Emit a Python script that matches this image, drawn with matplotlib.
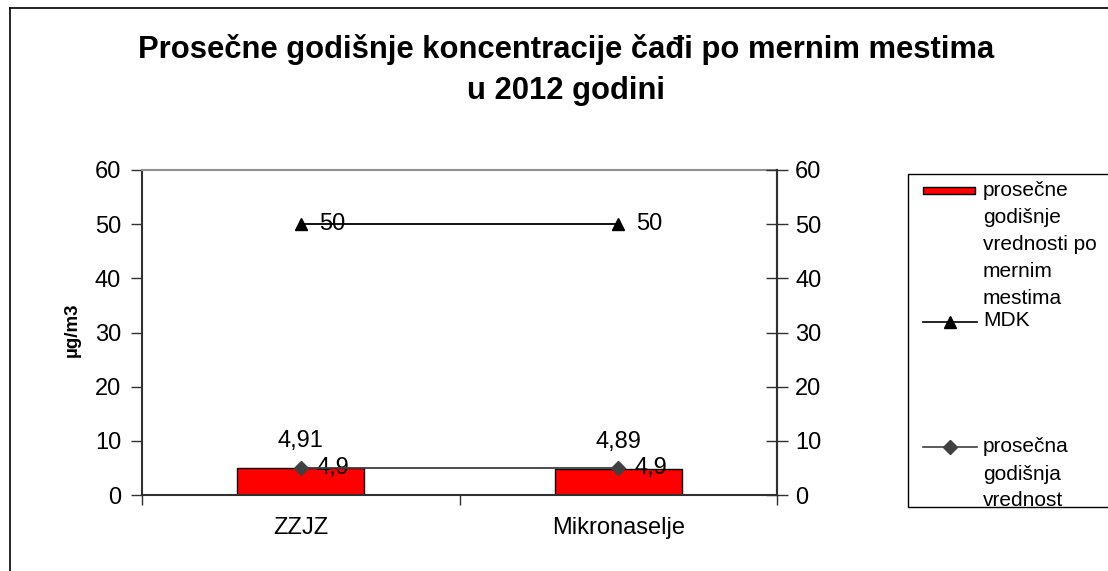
import matplotlib
matplotlib.use("Agg")
import matplotlib.pyplot as plt
from matplotlib.lines import Line2D
from matplotlib.patches import Rectangle

plt.rcParams['font.family'] = ['Liberation Sans', 'DejaVu Sans']

categories = ["ZZJZ", "Mikronaselje"]
bar_values = [4.91, 4.89]
mdk_values = [50, 50]
avg_values = [4.9, 4.9]
bar_labels = ["4,91", "4,89"]
mdk_labels = ["50", "50"]
avg_labels = ["4,9", "4,9"]
yticks = [0, 10, 20, 30, 40, 50, 60]

title_lines = ["Prosečne godišnje koncentracije čađi po mernim mestima", "u 2012 godini"]
ylabel = "µg/m3"
leg_bar = ["prosečne", "godišnje", "vrednosti po", "mernim", "mestima"]
leg_mdk = ["MDK"]
leg_avg = ["prosečna", "godišnja", "vrednost"]

W, H = 1108, 571
fig = plt.figure(figsize=(W / 100, H / 100), dpi=100)

def fx(px):
    return px / W

def fy(py):
    return 1 - py / H

ax = fig.add_axes([fx(142), fy(495), fx(777) - fx(142), fy(170) - fy(495)])
x = list(range(len(categories)))

ax.bar(x, bar_values, width=0.4, color="#FF0000", edgecolor="black", linewidth=1.0, zorder=2)
ax.plot(x, mdk_values, color="black", linewidth=1.3, marker="^", markersize=9, zorder=3)
ax.plot(x, avg_values, color="#404040", linewidth=1.3, marker="D", markersize=7, zorder=4)

fs = 17
for xi, v, lab in zip(x, bar_values, bar_labels):
    ax.annotate(lab, (xi, v), xytext=(0, 27), textcoords="offset pixels",
                ha="center", va="center", fontsize=fs)
for xi, v, lab in zip(x, avg_values, avg_labels):
    ax.annotate(lab, (xi, v), xytext=(16, 0), textcoords="offset pixels",
                ha="left", va="center", fontsize=fs)
for xi, v, lab in zip(x, mdk_values, mdk_labels):
    ax.annotate(lab, (xi, v), xytext=(18, 0), textcoords="offset pixels",
                ha="left", va="center", fontsize=fs)

ax.set_xlim(-0.5, len(categories) - 0.5)
ax.set_ylim(0, 60)
ax.set_yticks(yticks)
ax.tick_params(axis="y", direction="out", length=8, width=1, colors="#303030",
               labelcolor="black", labelsize=fs, pad=7)
ax.set_xticks([-0.5, 0.5, 1.5])
ax.set_xticklabels([])
ax.set_xticks(x, minor=True)
ax.set_xticklabels(categories, minor=True)
ax.tick_params(axis="x", which="major", direction="out", length=7, width=1, colors="#303030")
ax.tick_params(axis="x", which="minor", length=0, labelsize=fs, pad=16)

for s in ["left", "bottom", "right"]:
    ax.spines[s].set_color("#303030")
    ax.spines[s].set_linewidth(1.5)
ax.spines["top"].set_color("#909090")
ax.spines["top"].set_linewidth(1.5)

ax2 = ax.twinx()
ax2.set_ylim(0, 60)
ax2.set_yticks(yticks)
ax2.tick_params(axis="y", direction="inout", length=16, width=1, colors="#303030",
                labelcolor="black", labelsize=fs, pad=5)
for s in ["left", "top", "bottom"]:
    ax2.spines[s].set_visible(False)
ax2.spines["right"].set_color("#303030")
ax2.spines["right"].set_linewidth(1.5)

fig.text(fx(72), fy(330), ylabel, ha="center", va="center", rotation=90,
         fontsize=13.5, fontweight="bold")

fig.text(fx(566), fy(58), title_lines[0], ha="center", va="baseline", fontsize=22.3,
         fontweight="bold")
fig.text(fx(566), fy(99), title_lines[1], ha="center", va="baseline", fontsize=22.3,
         fontweight="bold")

# outer frame (left and top visible)
fig.add_artist(Line2D([fx(9.5), fx(9.5)], [fy(7.5), 0], color="black", linewidth=1.2))
fig.add_artist(Line2D([fx(9.5), 1], [fy(7.5), fy(7.5)], color="black", linewidth=1.2))

# legend
fig.add_artist(Rectangle((fx(908), fy(507)), fx(1120) - fx(908), fy(174) - fy(507),
                         facecolor="white", edgecolor="black", linewidth=1.0))
fig.add_artist(Rectangle((fx(923), fy(194)), fx(975) - fx(923), fy(187) - fy(194),
                         facecolor="#FF0000", edgecolor="black", linewidth=1.0))
fig.add_artist(Line2D([fx(923), fx(950), fx(977)], [fy(322)] * 3, color="black", linewidth=1.2,
                      marker="^", markersize=9, markevery=[1]))
fig.add_artist(Line2D([fx(923), fx(950), fx(977)], [fy(447)] * 3, color="#404040", linewidth=1.2,
                      marker="D", markersize=7, markevery=[1]))

lfs = 15
for i, t in enumerate(leg_bar):
    fig.text(fx(983), fy(190 + 27.2 * i), t, ha="left", va="center", fontsize=lfs)
fig.text(fx(983), fy(320), leg_mdk[0], ha="left", va="center", fontsize=lfs)
for i, t in enumerate(leg_avg):
    fig.text(fx(983), fy(447 + 27 * i), t, ha="left", va="center", fontsize=lfs)

fig.savefig("out.png", dpi=100)
